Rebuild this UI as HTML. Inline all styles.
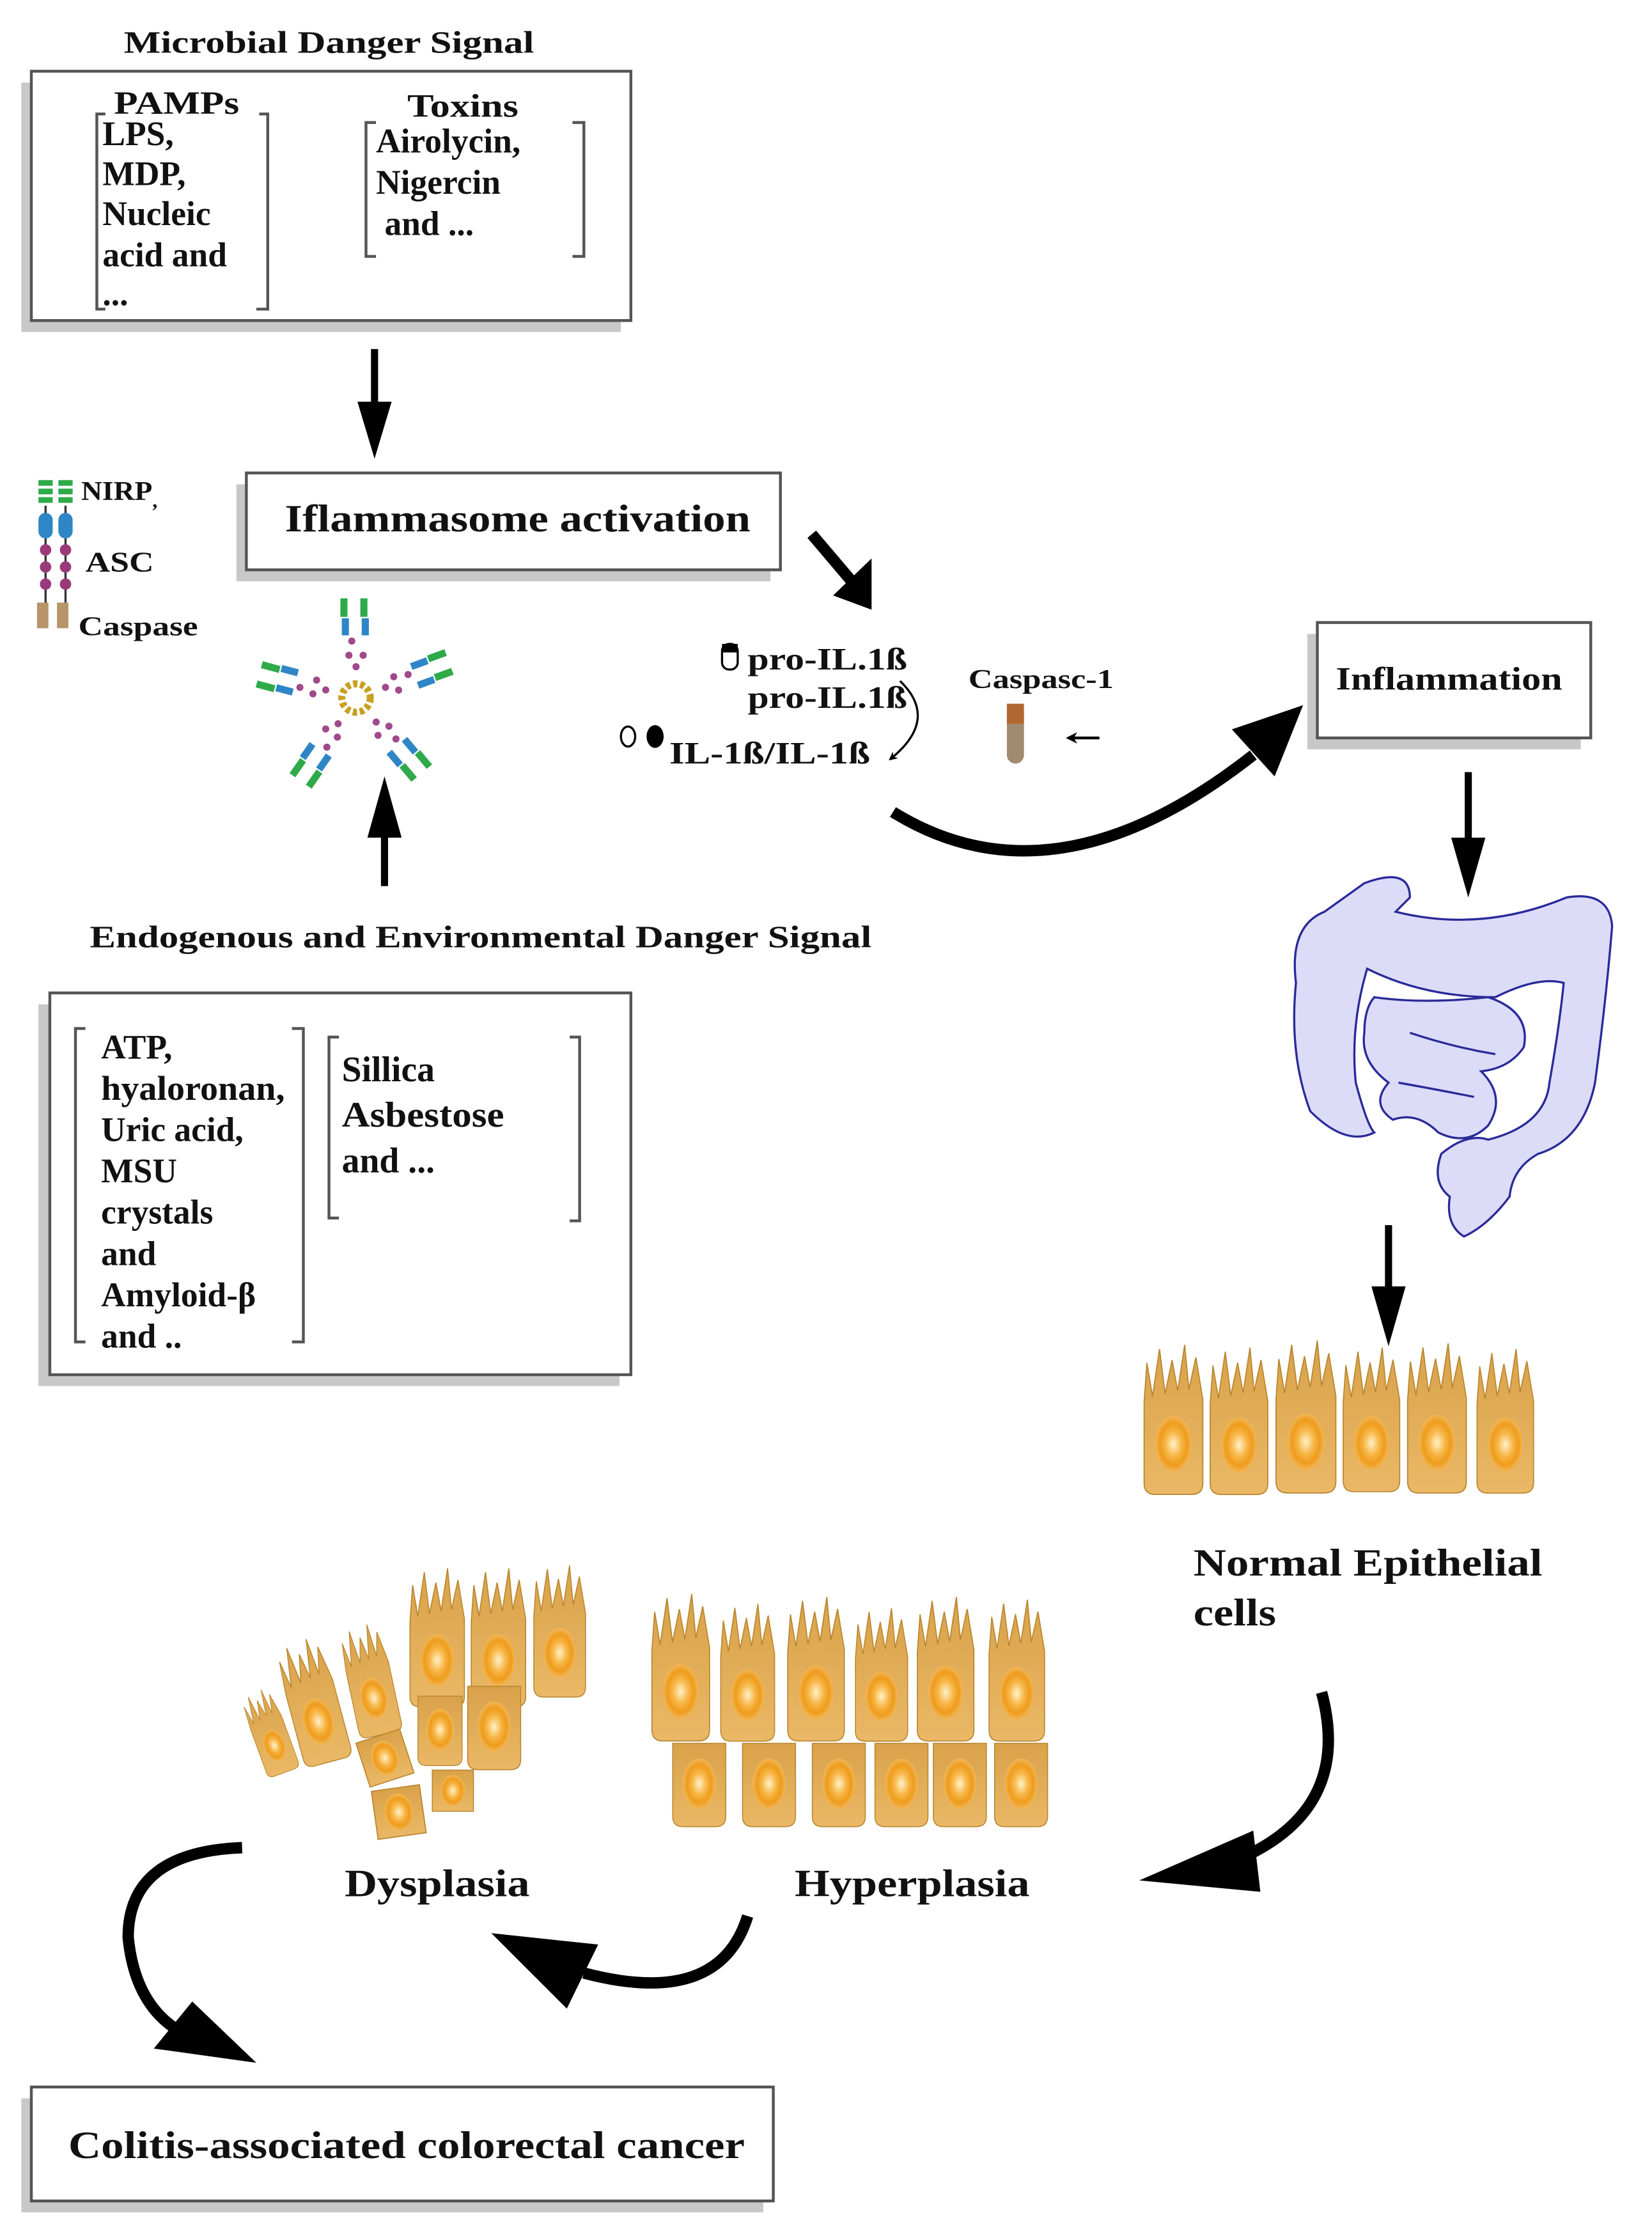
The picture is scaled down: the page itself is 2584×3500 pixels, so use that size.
<!DOCTYPE html>
<html><head><meta charset="utf-8"><style>
html,body{margin:0;padding:0;background:#fff}
svg{display:block}
text{font-family:"Liberation Serif",serif;font-weight:bold;fill:#111}
</style></head><body>
<svg width="2584" height="3500" viewBox="0 0 1160 1571" preserveAspectRatio="none" xmlns="http://www.w3.org/2000/svg">
<defs>
<linearGradient id="cg" x1="0" y1="0" x2="0" y2="1"><stop offset="0" stop-color="#d9a24a"/><stop offset="1" stop-color="#eab866"/></linearGradient>
<radialGradient id="ng"><stop offset="0" stop-color="#fff2c8"/><stop offset="0.45" stop-color="#f7b545"/><stop offset="0.75" stop-color="#ee9c1c"/><stop offset="1" stop-color="#f2b657"/></radialGradient>
<symbol id="cell" viewBox="0 0 46 110">
<path d="M2,42 L4,14 L8,38 L13,4 L17,36 L22,12 L26,34 L31,1 L34,33 L39,10 L44,40 L44,100 Q44,108 36,108 L10,108 Q2,108 2,100 Z" fill="url(#cg)" stroke="#b8862e" stroke-width="0.8"/>
<ellipse cx="23" cy="72" rx="13" ry="20" fill="url(#ng)"/>
</symbol>
<symbol id="flat" viewBox="0 0 46 70">
<path d="M2,2 L44,2 L44,60 Q44,68 36,68 L10,68 Q2,68 2,60 Z" fill="url(#cg)" stroke="#b8862e" stroke-width="0.8"/>
<ellipse cx="23" cy="34" rx="13" ry="20" fill="url(#ng)"/>
</symbol>
<symbol id="box" viewBox="0 0 40 40">
<path d="M3,3 L37,3 L37,37 L3,37 Z" fill="url(#cg)" stroke="#b8862e" stroke-width="0.8"/>
<ellipse cx="20" cy="20" rx="10" ry="13" fill="url(#ng)"/>
</symbol>
<marker id="ah" viewBox="0 0 10 10" refX="8" refY="5" markerWidth="4" markerHeight="4" orient="auto"><path d="M0,0 L10,5 L0,10 L3,5 Z" fill="#000"/></marker>
</defs>

<!-- Microbial box -->
<text x="87" y="37" font-size="22" textLength="288" lengthAdjust="spacingAndGlyphs">Microbial Danger Signal</text>
<rect x="15" y="58" width="421" height="175" fill="#c8c8c8"/>
<rect x="22" y="50" width="421" height="175" fill="#fff" stroke="#555" stroke-width="2"/>
<text x="80" y="80" font-size="23" textLength="88" lengthAdjust="spacingAndGlyphs">PAMPs</text>
<path d="M74,80 L68,80 L68,217 L74,217 M182,80 L188,80 L188,217 L180,217" fill="none" stroke="#555" stroke-width="2"/>
<g font-size="24"><text x="72" y="102">LPS,</text><text x="72" y="130">MDP,</text><text x="72" y="158">Nucleic</text><text x="72" y="187">acid and</text><text x="72" y="214">...</text></g>
<text x="286" y="82" font-size="23" textLength="78" lengthAdjust="spacingAndGlyphs">Toxins</text>
<path d="M264,86 L257,86 L257,180 L264,180 M402,86 L410,86 L410,180 L402,180" fill="none" stroke="#555" stroke-width="2"/>
<g font-size="24"><text x="264" y="107">Airolycin,</text><text x="264" y="136">Nigercin</text><text x="270" y="165">and ...</text></g>

<!-- arrow down -->
<line x1="263" y1="245" x2="263" y2="290" stroke="#000" stroke-width="5"/>
<path d="M251,282 L275,282 L263,322 Z" fill="#000"/>

<!-- Inflammasome box -->
<rect x="166" y="340" width="375" height="68" fill="#c8c8c8"/>
<rect x="173" y="332" width="375" height="68" fill="#fff" stroke="#555" stroke-width="2"/>
<text x="200" y="373" font-size="27" textLength="327" lengthAdjust="spacingAndGlyphs">Iflammasome activation</text>

<!-- NIRP icon -->
<g>
<g fill="#2eaa4a"><rect x="27" y="337" width="10" height="4"/><rect x="27" y="343" width="10" height="4"/><rect x="27" y="349" width="10" height="4"/><rect x="41" y="337" width="10" height="4"/><rect x="41" y="343" width="10" height="4"/><rect x="41" y="349" width="10" height="4"/></g>
<line x1="32" y1="355" x2="32" y2="425" stroke="#333" stroke-width="1.5"/><line x1="46" y1="355" x2="46" y2="425" stroke="#333" stroke-width="1.5"/>
<rect x="27" y="360" width="10" height="18" rx="5" fill="#2f86c6"/><rect x="41" y="360" width="10" height="18" rx="5" fill="#2f86c6"/>
<g fill="#9a3a7a"><circle cx="32" cy="386" r="4"/><circle cx="32" cy="398" r="4"/><circle cx="32" cy="410" r="4"/><circle cx="46" cy="386" r="4"/><circle cx="46" cy="398" r="4"/><circle cx="46" cy="410" r="4"/></g>
<rect x="26" y="423" width="8" height="18" fill="#b8946a"/><rect x="40" y="423" width="8" height="18" fill="#b8946a"/>
</g>
<text x="57" y="351" font-size="19" textLength="50" lengthAdjust="spacingAndGlyphs">NIRP</text><text x="107" y="356" font-size="14">,</text>
<text x="60" y="401" font-size="20" textLength="48" lengthAdjust="spacingAndGlyphs">ASC</text>
<text x="55" y="446" font-size="19" textLength="84" lengthAdjust="spacingAndGlyphs">Caspase</text>

<!-- star molecule -->
<g transform="translate(250,490)">
<circle r="10" fill="none" stroke="#c8a020" stroke-width="5" stroke-dasharray="3 2"/>
<g id="arm"><circle cx="0" cy="-22" r="2.5" fill="#a04a8a"/><circle cx="5" cy="-30" r="2.5" fill="#a04a8a"/><circle cx="-5" cy="-30" r="2.5" fill="#a04a8a"/><circle cx="-3" cy="-40" r="2.5" fill="#a04a8a"/><rect x="-10" y="-56" width="5" height="12" fill="#2f86c6"/><rect x="4" y="-56" width="5" height="12" fill="#2f86c6"/><rect x="-11" y="-70" width="5" height="13" fill="#2eaa4a"/><rect x="3" y="-70" width="5" height="13" fill="#2eaa4a"/></g>
<use href="#arm" transform="rotate(70)"/><use href="#arm" transform="rotate(140)"/><use href="#arm" transform="rotate(215)"/><use href="#arm" transform="rotate(285)"/>
</g>

<!-- diagonal arrow -->
<line x1="570" y1="375" x2="598" y2="408" stroke="#000" stroke-width="8"/>
<path d="M585,418 L612,392 L612,428 Z" fill="#000"/>

<!-- IL texts -->
<rect x="507" y="452" width="11" height="18" rx="5" fill="#fff" stroke="#000" stroke-width="1.5"/><rect x="507" y="452" width="11" height="6" fill="#000"/>
<text x="525" y="470" font-size="22" textLength="112" lengthAdjust="spacingAndGlyphs">pro-IL.1ß</text>
<text x="525" y="497" font-size="22" textLength="112" lengthAdjust="spacingAndGlyphs">pro-IL.1ß</text>
<ellipse cx="441" cy="517" rx="5" ry="7" fill="#fff" stroke="#000" stroke-width="1.5"/><ellipse cx="460" cy="517" rx="6" ry="8" fill="#000"/>
<text x="470" y="536" font-size="22" textLength="141" lengthAdjust="spacingAndGlyphs">IL-1ß/IL-1ß</text>
<path d="M632,478 Q660,505 625,533" fill="none" stroke="#000" stroke-width="1.5" marker-end="url(#ah)"/>

<text x="680" y="483" font-size="19" textLength="102" lengthAdjust="spacingAndGlyphs">Caspasc-1</text>
<rect x="707" y="494" width="12" height="42" rx="6" fill="#a08a70"/><rect x="707" y="494" width="12" height="14" fill="#b06830"/>
<line x1="772" y1="518" x2="750" y2="518" stroke="#000" stroke-width="2" marker-end="url(#ah)"/>

<!-- big curved arrow to Inflammation -->
<path d="M627,570 Q740,640 880,530" fill="none" stroke="#000" stroke-width="8"/>
<path d="M865,512 L915,495 L895,545 Z" fill="#000"/>

<!-- Inflammation box -->
<rect x="918" y="445" width="192" height="81" fill="#c8c8c8"/>
<rect x="925" y="437" width="192" height="81" fill="#fff" stroke="#555" stroke-width="2"/>
<text x="938" y="484" font-size="23" textLength="159" lengthAdjust="spacingAndGlyphs">Inflammation</text>

<line x1="1031" y1="542" x2="1031" y2="595" stroke="#000" stroke-width="5"/>
<path d="M1019,588 L1043,588 L1031,630 Z" fill="#000"/>

<!-- intestine -->
<g fill="#dcdcf8" stroke="#2a2a9a" stroke-width="1.5">
<path d="M958,620 Q990,608 990,630 L980,640 Q1040,655 1100,630 Q1130,625 1132,650 Q1128,700 1120,760 Q1112,800 1080,810 Q1062,820 1060,840 Q1045,860 1028,868 Q1015,860 1018,840 Q1005,830 1012,810 Q1030,795 1045,800 Q1085,790 1088,760 Q1095,720 1098,690 Q1080,685 1050,700 Q1000,700 960,680 Q948,720 952,760 Q960,790 965,795 Q945,805 920,780 Q905,740 910,690 Q905,650 930,640 Z"/>
<path d="M965,700 Q1000,705 1045,700 Q1075,710 1070,735 Q1060,750 1040,752 Q1058,770 1045,790 Q1030,805 1010,795 Q995,780 978,786 Q962,775 975,760 Q955,745 958,725 Q958,708 965,700 Z"/>
<path d="M990,725 Q1020,735 1050,740 M982,760 Q1010,765 1035,770" fill="none"/>
</g>

<line x1="975" y1="860" x2="975" y2="910" stroke="#000" stroke-width="5"/>
<path d="M963,903 L987,903 L975,945 Z" fill="#000"/>

<!-- normal epithelium -->
<use href="#cell" x="800" y="943" width="48" height="108"/>
<use href="#cell" x="846" y="945" width="48" height="106"/>
<use href="#cell" x="892" y="940" width="50" height="110"/>
<use href="#cell" x="940" y="945" width="46" height="104"/>
<use href="#cell" x="984" y="942" width="50" height="108"/>
<use href="#cell" x="1032" y="946" width="50" height="104"/>
<text x="838" y="1106" font-size="27" textLength="245" lengthAdjust="spacingAndGlyphs">Normal Epithelial</text>
<text x="838" y="1141" font-size="27" textLength="58" lengthAdjust="spacingAndGlyphs">cells</text>

<!-- Endogenous -->
<text x="63" y="665" font-size="22" textLength="549" lengthAdjust="spacingAndGlyphs">Endogenous and Environmental Danger Signal</text>
<line x1="270" y1="622" x2="270" y2="580" stroke="#000" stroke-width="5"/>
<path d="M258,588 L282,588 L270,545 Z" fill="#000"/>

<rect x="27" y="705" width="408" height="268" fill="#c8c8c8"/>
<rect x="35" y="697" width="408" height="268" fill="#fff" stroke="#555" stroke-width="2"/>
<path d="M60,722 L53,722 L53,942 L60,942 M205,722 L213,722 L213,942 L205,942" fill="none" stroke="#555" stroke-width="2"/>
<g font-size="24"><text x="71" y="743">ATP,</text><text x="71" y="772" textLength="129" lengthAdjust="spacingAndGlyphs">hyaloronan,</text><text x="71" y="801">Uric acid,</text><text x="71" y="830">MSU</text><text x="71" y="859">crystals</text><text x="71" y="888">and</text><text x="71" y="917">Amyloid-β</text><text x="71" y="946">and ..</text></g>
<path d="M238,728 L231,728 L231,855 L238,855 M400,728 L407,728 L407,857 L400,857" fill="none" stroke="#555" stroke-width="2"/>
<g font-size="25"><text x="240" y="759">Sillica</text><text x="240" y="791" textLength="114" lengthAdjust="spacingAndGlyphs">Asbestose</text><text x="240" y="823">and ...</text></g>

<!-- curved arrow to hyperplasia -->
<path d="M928,1188 Q950,1270 870,1305" fill="none" stroke="#000" stroke-width="8"/>
<path d="M800,1320 L880,1285 L885,1328 Z" fill="#000"/>

<!-- hyperplasia -->
<use href="#cell" x="453" y="1118" width="50" height="106"/>
<use href="#cell" x="500" y="1125" width="50" height="99"/>
<use href="#cell" x="547" y="1120" width="52" height="104"/>
<use href="#cell" x="597" y="1128" width="44" height="96"/>
<use href="#cell" x="638" y="1120" width="52" height="104"/>
<use href="#cell" x="688" y="1122" width="52" height="102"/>
<use href="#flat" x="466" y="1222" width="50" height="62"/>
<use href="#flat" x="514" y="1222" width="52" height="62"/>
<use href="#flat" x="563" y="1222" width="52" height="62"/>
<use href="#flat" x="612" y="1222" width="42" height="62"/>
<use href="#flat" x="651" y="1222" width="46" height="62"/>
<use href="#flat" x="694" y="1222" width="46" height="62"/>
<text x="558" y="1331" font-size="27" textLength="165" lengthAdjust="spacingAndGlyphs">Hyperplasia</text>

<!-- dysplasia -->
<use href="#cell" x="285" y="1100" width="44" height="100"/>
<use href="#cell" x="327" y="1100" width="46" height="100"/>
<use href="#cell" x="370" y="1098" width="46" height="95"/>
<use href="#flat" x="292" y="1185" width="34" height="60"/>
<use href="#flat" x="325" y="1182" width="44" height="62"/>
<g transform="rotate(-12 260 1180)"><use href="#cell" x="240" y="1140" width="40" height="80"/></g>
<g transform="rotate(-15 220 1195)"><use href="#cell" x="200" y="1150" width="40" height="90"/></g>
<g transform="rotate(-20 190 1215)"><use href="#cell" x="172" y="1185" width="34" height="62"/></g>
<g transform="rotate(-18 270 1230)"><use href="#box" x="250" y="1210" width="38" height="48"/></g>
<use href="#box" x="300" y="1240" width="36" height="34"/>
<g transform="rotate(-8 280 1272)"><use href="#box" x="258" y="1252" width="44" height="40"/></g>
<text x="242" y="1331" font-size="27" textLength="130" lengthAdjust="spacingAndGlyphs">Dysplasia</text>

<!-- arrow hyperplasia -> dysplasia -->
<path d="M525,1345 Q505,1410 410,1385" fill="none" stroke="#000" stroke-width="8"/>
<path d="M345,1357 L420,1365 L398,1410 Z" fill="#000"/>

<!-- arrow dysplasia -> cancer -->
<path d="M170,1297 Q90,1300 90,1360 Q95,1410 130,1428" fill="none" stroke="#000" stroke-width="8"/>
<path d="M180,1448 L108,1438 L135,1405 Z" fill="#000"/>

<!-- cancer box -->
<rect x="15" y="1473" width="521" height="80" fill="#c8c8c8"/>
<rect x="22" y="1465" width="521" height="80" fill="#fff" stroke="#555" stroke-width="2"/>
<text x="48" y="1515" font-size="27" textLength="475" lengthAdjust="spacingAndGlyphs">Colitis-associated colorectal cancer</text>
</svg>
</body></html>
